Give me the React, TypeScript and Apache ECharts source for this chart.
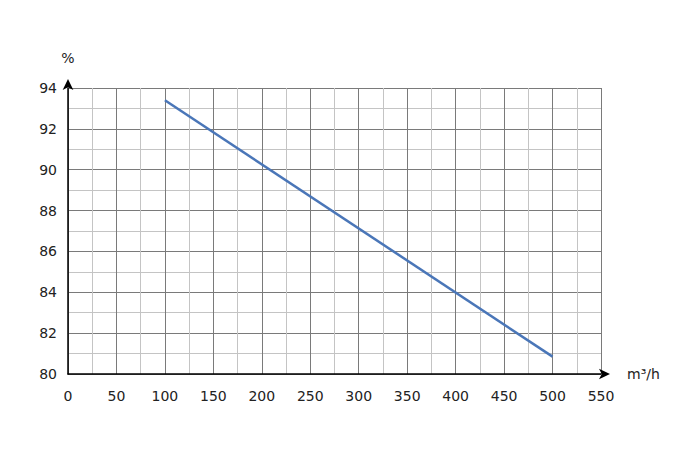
import React, { useEffect, useRef } from "react";
import * as echarts from "echarts";

const flowValues: number[] = [100, 500];
const efficiencyValues: number[] = [93.4, 80.85];
const xTicks = { min: 0, max: 550, interval: 50 };
const yTicks = { min: 80, max: 94, interval: 2 };
const xUnit = "m³/h";
const yUnit = "%";

export default function App() {
  const ref = useRef<HTMLDivElement>(null);
  useEffect(() => {
    if (!ref.current) return;
    const chart = echarts.init(ref.current, null, { renderer: "svg" });
    const font = "DejaVu Sans";
    const axisCommon = {
      axisLine: {
        show: true,
        lineStyle: { color: "#000", width: 1.5 },
        symbol: ["none", "arrow"],
        symbolSize: [8, 11],
        symbolOffset: [0, 9],
      },
      axisTick: { show: false },
      minorTick: { show: false, splitNumber: 2 },
      splitLine: { show: true, lineStyle: { color: "#7a7a7a", width: 1 } },
      minorSplitLine: { show: true, lineStyle: { color: "#c4c4c4", width: 1 } },
      nameTextStyle: { color: "#222", fontSize: 14, fontFamily: font },
    };
    chart.setOption({
      animation: false,
      grid: { left: 68, right: 99, top: 88, bottom: 85, containLabel: false },
      xAxis: {
        type: "value",
        ...axisCommon,
        min: xTicks.min,
        max: xTicks.max,
        interval: xTicks.interval,
        name: xUnit,
        nameLocation: "end",
        nameGap: 26,
        axisLabel: { color: "#222", fontSize: 14, fontFamily: font, margin: 15 },
      },
      yAxis: {
        type: "value",
        ...axisCommon,
        min: yTicks.min,
        max: yTicks.max,
        interval: yTicks.interval,
        name: yUnit,
        nameLocation: "end",
        nameGap: 23,
        nameTextStyle: { color: "#222", fontSize: 14, fontFamily: font, align: "center" },
        axisLabel: { color: "#222", fontSize: 14, fontFamily: font, margin: 11 },
      },
      series: [
        {
          type: "line",
          data: flowValues.map((x, i) => [x, efficiencyValues[i]]),
          showSymbol: false,
          lineStyle: { color: "#4a76b8", width: 2.5 },
          z: 5,
        },
      ],
    });
    return () => chart.dispose();
  }, []);
  return <div ref={ref} style={{ width: 700, height: 459, position: "absolute", left: 0, top: 0 }} />;
}
